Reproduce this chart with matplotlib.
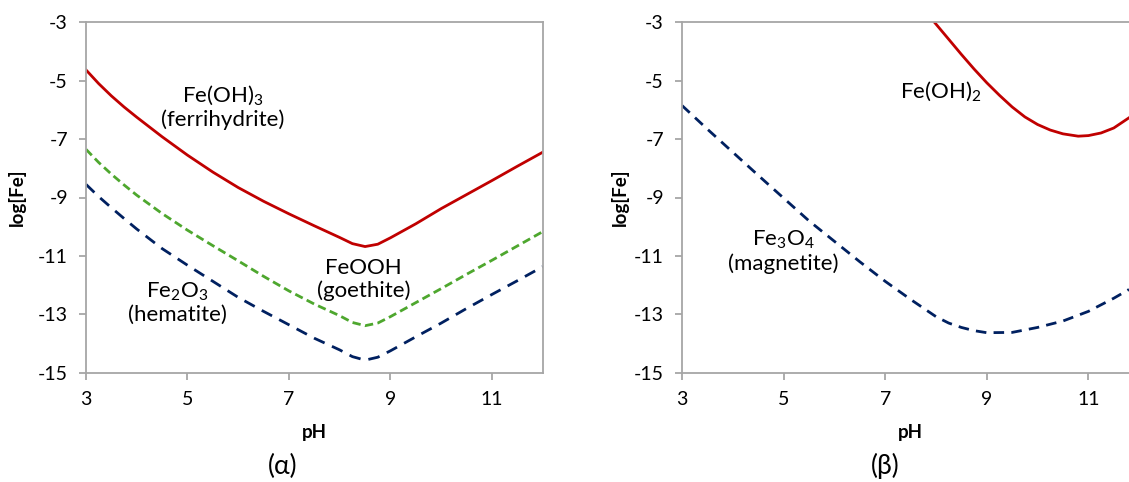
import numpy as np
import matplotlib
matplotlib.use('Agg')
import matplotlib.pyplot as plt

# 数据 (α): Fe(III) 固相
ph_a = [3.0, 3.25, 3.5, 3.75, 4.0, 4.5, 5.0, 5.5, 6.0, 6.5, 7.0, 7.5, 8.0, 8.25, 8.5, 8.75,
        9.0, 9.5, 10.0, 10.5, 11.0, 11.5, 12.0]
fe_oh3 = [-4.63, -5.1, -5.52, -5.9, -6.25, -6.92, -7.55, -8.13, -8.66, -9.13, -9.56, -9.97, -10.37, -10.58,
          -10.68, -10.6, -10.38, -9.9, -9.38, -8.9, -8.42, -7.93, -7.45]
feooh = [-7.35, -7.8, -8.2, -8.57, -8.92, -9.55, -10.12, -10.65, -11.17, -11.7, -12.2, -12.65, -13.05, -13.28,
         -13.39, -13.3, -13.08, -12.6, -12.12, -11.63, -11.15, -10.66, -10.17]
fe2o3 = [-8.55, -8.97, -9.35, -9.72, -10.08, -10.75, -11.32, -11.87, -12.42, -12.9, -13.36, -13.82, -14.22, -14.45,
         -14.57, -14.47, -14.25, -13.77, -13.3, -12.8, -12.32, -11.85, -11.37]

# 数据 (β): Fe(II) 固相
ph_b1 = [7.97, 8.25, 8.5, 8.75, 9.0, 9.25, 9.5, 9.75, 10.0, 10.25, 10.5, 10.8, 11.0, 11.25, 11.5, 11.8]
fe_oh2 = [-3.0, -3.58, -4.1, -4.6, -5.07, -5.5, -5.9, -6.24, -6.5, -6.69, -6.82, -6.9, -6.88, -6.79, -6.62, -6.27]
ph_b2 = [3.0, 3.5, 4.0, 4.5, 5.0, 5.5, 6.0, 6.5, 7.0, 7.5, 8.0, 8.25, 8.5, 8.75, 9.0, 9.5, 10.0, 10.5, 11.0,
         11.5, 11.8]
fe3o4 = [-5.85, -6.66, -7.45, -8.24, -9.02, -9.8, -10.5, -11.2, -11.87, -12.49, -13.08, -13.3, -13.45, -13.56,
         -13.63, -13.62, -13.45, -13.23, -12.9, -12.45, -12.15]

x_ticks = [3, 5, 7, 9, 11]
y_ticks = [-3, -5, -7, -9, -11, -13, -15]

RED = '#C00000'
GREEN = '#4EA72E'
NAVY = '#002060'
GRAY = '#A6A6A6'

plt.rcParams['font.family'] = ['Lato', 'DejaVu Sans']
plt.rcParams['mathtext.fontset'] = 'custom'
plt.rcParams['mathtext.rm'] = 'Lato'
plt.rcParams['mathtext.it'] = 'Lato:italic'
plt.rcParams['axes.unicode_minus'] = False


def style_axes(ax, xmax, right_spine=True):
    ax.set_xlim(3, xmax)
    ax.set_ylim(-15, -3)
    ax.set_xticks(x_ticks)
    ax.set_yticks(y_ticks)
    ax.set_xticklabels([str(t) for t in x_ticks])
    ax.set_yticklabels([str(t) for t in y_ticks])
    for s in ax.spines.values():
        s.set_color(GRAY)
        s.set_linewidth(1.3)
    ax.spines['right'].set_visible(right_spine)
    ax.tick_params(direction='out', length=5, width=1.3, color=GRAY,
                   labelsize=14, pad=8, labelcolor='black')
    ax.set_ylabel('log[Fe]', fontsize=13.5, fontweight='bold')
    ax.set_xlabel('pH', fontsize=13.5, fontweight='bold')


fig = plt.figure(figsize=(11.29, 4.82), dpi=100)

# (α)
ax1 = fig.add_axes([86 / 1129, 1 - 372.7 / 482, 456.7 / 1129, 350.4 / 482])
ax1.plot(ph_a, fe_oh3, color=RED, lw=2.0)
ax1.plot(ph_a, feooh, color=GREEN, lw=2.0, dashes=(3.0, 1.6))
ax1.plot(ph_a, fe2o3, color=NAVY, lw=2.0, dashes=(4.2, 2.9))
style_axes(ax1, 12)
ax1.text(5.7, -5.9, 'Fe(OH)$_3$\n(ferrihydrite)', ha='center', va='center',
         fontsize=16, linespacing=1.15)
ax1.text(8.47, -11.82, 'FeOOH\n(goethite)', ha='center', va='center',
         fontsize=16, linespacing=1.15)
ax1.text(4.8, -12.6, 'Fe$_2$O$_3$\n(hematite)', ha='center', va='center',
         fontsize=16, linespacing=1.15)
fig.text(283 / 1129, 1 - 466 / 482, '(α)', ha='center', va='center', fontsize=19)

# (β)
ax2 = fig.add_axes([682 / 1129, 1 - 372.7 / 482, 447 / 1129, 350.4 / 482])
ax2.plot(ph_b1, fe_oh2, color=RED, lw=2.0)
ax2.plot(ph_b2, fe3o4, color=NAVY, lw=2.0, dashes=(3.8, 2.6))
style_axes(ax2, 11.8, right_spine=False)
ax2.text(8.1, -5.36, 'Fe(OH)$_2$', ha='center', va='center', fontsize=16)
ax2.text(5.0, -10.85, 'Fe$_3$O$_4$\n(magnetite)', ha='center', va='center',
         fontsize=16, linespacing=1.15)
fig.text(885 / 1129, 1 - 466 / 482, '(β)', ha='center', va='center', fontsize=19)

# 轴标签位置 (像素 -> 坐标)
for ax, x0, w, xc, yc in [(ax1, 86, 456.7, 314, 17), (ax2, 682, 447, 910, 620)]:
    ax.xaxis.set_label_coords((xc - x0) / w, -(424 - 372.7) / 350.4)
    ax.xaxis.label.set_va('top')
    ax.yaxis.set_label_coords((yc - x0) / w, 0.5)
    ax.yaxis.label.set_va('center')

fig.savefig('out.png', dpi=100)
